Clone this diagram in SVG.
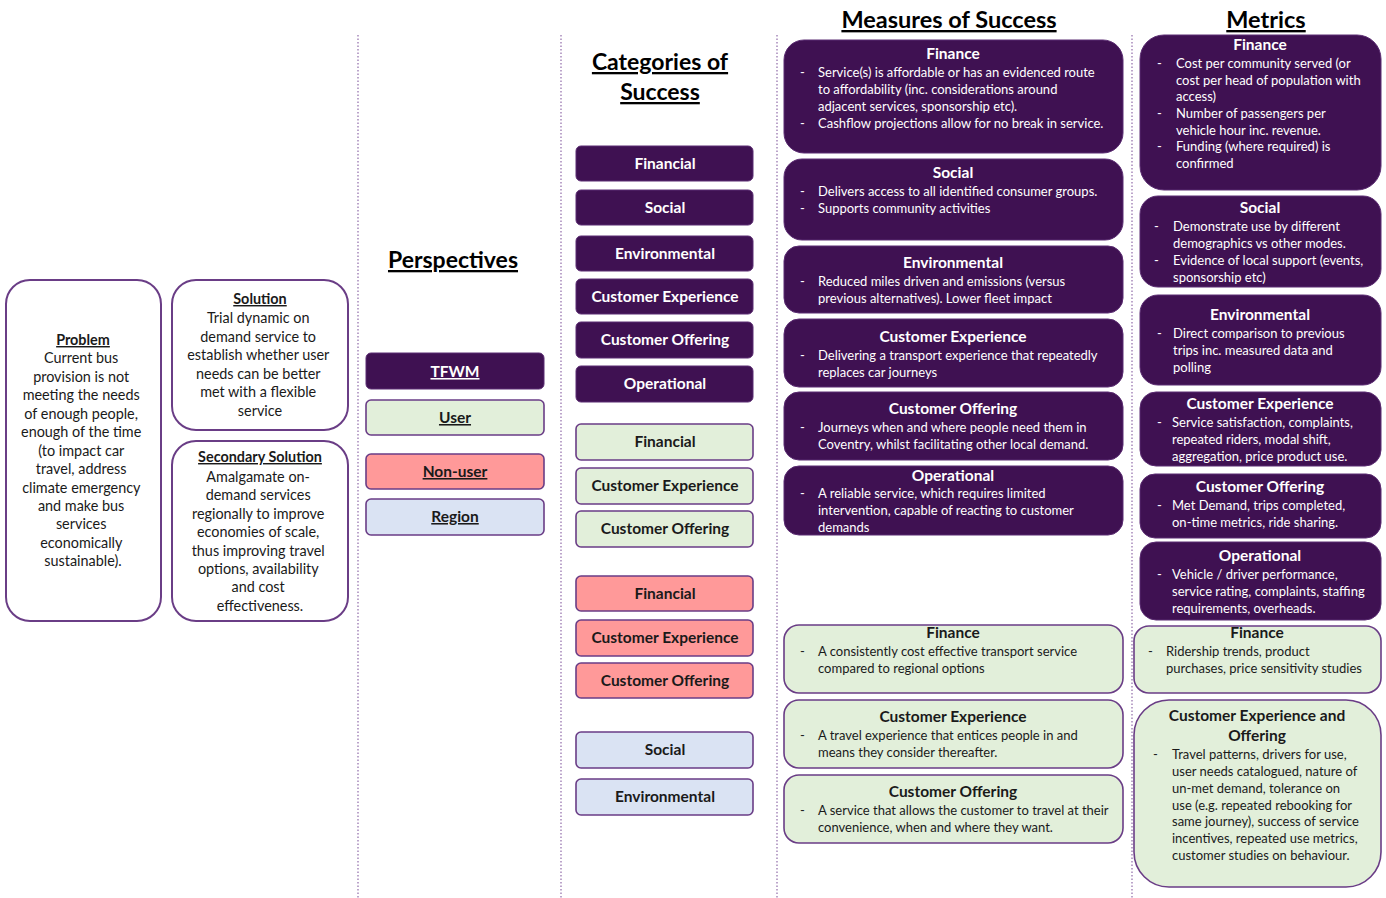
<svg xmlns="http://www.w3.org/2000/svg" width="1386" height="898" viewBox="0 0 1386 898">
<style>
text{font-family:Lato,"Open Sans",sans-serif;}
.bg{fill:#ffffff}
.div{stroke:#8f6aa8;stroke-width:1.2;stroke-dasharray:1.5 2;fill:none}
.wbox{fill:#ffffff;stroke:#6a3d86;stroke-width:2}
.dk{fill:#3f1152;stroke:#5b2c72;stroke-width:1}
.gr{fill:#e2efda;stroke:#6a3d86;stroke-width:1.6}
.rd{fill:#ff9999;stroke:#6a3d86;stroke-width:1.6}
.bl{fill:#dae3f3;stroke:#6a3d86;stroke-width:1.6}
.head{font-size:23px;font-weight:bold;fill:#000;text-anchor:middle;text-decoration:underline}
.lt{font-size:14.4px;fill:#1a1a1a;text-anchor:middle}
.ltb{font-size:14.4px;font-weight:bold;fill:#1a1a1a;text-anchor:middle;text-decoration:underline}
.cw{font-size:15.5px;font-weight:bold;fill:#fff;text-anchor:middle}
.ck{font-size:15.5px;font-weight:bold;fill:#1a1a1a;text-anchor:middle}
.pw{text-decoration:underline}
.tw{font-size:15.5px;font-weight:bold;fill:#fff;text-anchor:middle}
.tk{font-size:15.5px;font-weight:bold;fill:#1a1a1a;text-anchor:middle}
.bw{font-size:13px;fill:#fff}
.bk{font-size:13px;fill:#1a1a1a}
.mw{font-size:13px;fill:#fff}
.mk{font-size:13px;fill:#1a1a1a}
</style>
<rect class="bg" x="0" y="0" width="1386" height="898"/>

<g id="dividers">
<line class="div" x1="358" y1="35" x2="358" y2="898"/>
<line class="div" x1="561" y1="35" x2="561" y2="898"/>
<line class="div" x1="777" y1="35" x2="777" y2="898"/>
<line class="div" x1="1132" y1="35" x2="1132" y2="898"/>
</g>

<g id="problem">
<rect class="wbox" x="6" y="280" width="155" height="341" rx="24"/>
<text class="ltb" x="83" y="345">Problem</text>
<text class="lt">
<tspan x="83" y="363">Current bus</tspan>
<tspan x="83" y="382">provision is not</tspan>
<tspan x="83" y="400">meeting the needs</tspan>
<tspan x="83" y="419">of enough people,</tspan>
<tspan x="83" y="437">enough of the time</tspan>
<tspan x="83" y="456">(to impact car</tspan>
<tspan x="83" y="474">travel, address</tspan>
<tspan x="83" y="493">climate emergency</tspan>
<tspan x="83" y="511">and make bus</tspan>
<tspan x="83" y="529">services</tspan>
<tspan x="83" y="548">economically</tspan>
<tspan x="83" y="566">sustainable).</tspan>
</text>
</g>

<g id="solution">
<rect class="wbox" x="172" y="280" width="176" height="150" rx="24"/>
<text class="ltb" x="260" y="304">Solution</text>
<text class="lt">
<tspan x="260" y="323">Trial dynamic  on</tspan>
<tspan x="260" y="342">demand service to</tspan>
<tspan x="260" y="360">establish whether user</tspan>
<tspan x="260" y="379">needs can be better</tspan>
<tspan x="260" y="397">met with a flexible</tspan>
<tspan x="260" y="416">service</tspan>
</text>
</g>

<g id="secondary-solution">
<rect class="wbox" x="172" y="441" width="176" height="180" rx="24"/>
<text class="ltb" x="260" y="462">Secondary Solution</text>
<text class="lt">
<tspan x="260" y="482">Amalgamate on-</tspan>
<tspan x="260" y="500">demand services</tspan>
<tspan x="260" y="519">regionally to improve</tspan>
<tspan x="260" y="537">economies of scale,</tspan>
<tspan x="260" y="556">thus improving travel</tspan>
<tspan x="260" y="574">options, availability</tspan>
<tspan x="260" y="592">and cost</tspan>
<tspan x="260" y="611">effectiveness.</tspan>
</text>
</g>

<g id="perspectives">
<text class="head" x="453" y="268">Perspectives</text>
<g id="p-tfwm"><rect class="dk" x="366" y="353" width="178" height="36" rx="5"/><text class="cw pw" x="455" y="377">TFWM</text></g>
<g id="p-user"><rect class="gr" x="366" y="400" width="178" height="35" rx="5"/><text class="ck pw" x="455" y="423">User</text></g>
<g id="p-nonuser"><rect class="rd" x="366" y="454" width="178" height="35" rx="5"/><text class="ck pw" x="455" y="477">Non-user</text></g>
<g id="p-region"><rect class="bl" x="366" y="499" width="178" height="36" rx="5"/><text class="ck pw" x="455" y="522">Region</text></g>
</g>

<g id="categories">
<text class="head"><tspan x="660" y="70">Categories of</tspan><tspan x="660" y="100">Success</tspan></text>
<g id="c-t-fin"><rect class="dk" x="576" y="146" width="177" height="35" rx="5"/><text class="cw" x="665" y="169">Financial</text></g>
<g id="c-t-soc"><rect class="dk" x="576" y="190" width="177" height="35" rx="5"/><text class="cw" x="665" y="213">Social</text></g>
<g id="c-t-env"><rect class="dk" x="576" y="236" width="177" height="35" rx="5"/><text class="cw" x="665" y="259">Environmental</text></g>
<g id="c-t-ce"><rect class="dk" x="576" y="279" width="177" height="35" rx="5"/><text class="cw" x="665" y="302">Customer Experience</text></g>
<g id="c-t-co"><rect class="dk" x="576" y="322" width="177" height="36" rx="5"/><text class="cw" x="665" y="345">Customer Offering</text></g>
<g id="c-t-op"><rect class="dk" x="576" y="366" width="177" height="36" rx="5"/><text class="cw" x="665" y="389">Operational</text></g>
<g id="c-u-fin"><rect class="gr" x="576" y="424" width="177" height="36" rx="5"/><text class="ck" x="665" y="447">Financial</text></g>
<g id="c-u-ce"><rect class="gr" x="576" y="468" width="177" height="36" rx="5"/><text class="ck" x="665" y="491">Customer Experience</text></g>
<g id="c-u-co"><rect class="gr" x="576" y="511" width="177" height="36" rx="5"/><text class="ck" x="665" y="534">Customer Offering</text></g>
<g id="c-n-fin"><rect class="rd" x="576" y="576" width="177" height="35" rx="5"/><text class="ck" x="665" y="599">Financial</text></g>
<g id="c-n-ce"><rect class="rd" x="576" y="620" width="177" height="36" rx="5"/><text class="ck" x="665" y="643">Customer Experience</text></g>
<g id="c-n-co"><rect class="rd" x="576" y="663" width="177" height="35" rx="5"/><text class="ck" x="665" y="686">Customer Offering</text></g>
<g id="c-r-soc"><rect class="bl" x="576" y="732" width="177" height="36" rx="5"/><text class="ck" x="665" y="755">Social</text></g>
<g id="c-r-env"><rect class="bl" x="576" y="779" width="177" height="36" rx="5"/><text class="ck" x="665" y="802">Environmental</text></g>
</g>

<g id="measures">
<text class="head" x="949" y="28" style="font-size:23.5px">Measures of Success</text>
<g id="m-fin">
<rect class="dk" x="784" y="40" width="339" height="113" rx="20"/>
<text class="tw" x="953" y="59">Finance</text>
<text class="bw"><tspan x="800" y="77">-</tspan><tspan x="818" y="77">Service(s) is affordable or has an evidenced route</tspan><tspan x="818" y="94">to affordability (inc. considerations around</tspan><tspan x="818" y="111">adjacent services, sponsorship etc).</tspan><tspan x="800" y="128">-</tspan><tspan x="818" y="128">Cashflow projections allow for no break in service.</tspan></text>
</g>
<g id="m-soc">
<rect class="dk" x="784" y="159" width="339" height="81" rx="18"/>
<text class="tw" x="953" y="178">Social</text>
<text class="bw"><tspan x="800" y="196">-</tspan><tspan x="818" y="196">Delivers access to all identified consumer groups.</tspan><tspan x="800" y="213">-</tspan><tspan x="818" y="213">Supports community activities</tspan></text>
</g>
<g id="m-env">
<rect class="dk" x="784" y="246" width="339" height="67" rx="15"/>
<text class="tw" x="953" y="268">Environmental</text>
<text class="bw"><tspan x="800" y="286">-</tspan><tspan x="818" y="286">Reduced miles driven and emissions (versus</tspan><tspan x="818" y="303">previous alternatives).  Lower fleet impact</tspan></text>
</g>
<g id="m-ce">
<rect class="dk" x="784" y="319" width="339" height="68" rx="15"/>
<text class="tw" x="953" y="342">Customer Experience</text>
<text class="bw"><tspan x="800" y="360">-</tspan><tspan x="818" y="360">Delivering a transport experience that repeatedly</tspan><tspan x="818" y="377">replaces car journeys</tspan></text>
</g>
<g id="m-co">
<rect class="dk" x="784" y="392" width="339" height="68" rx="15"/>
<text class="tw" x="953" y="414">Customer Offering</text>
<text class="bw"><tspan x="800" y="432">-</tspan><tspan x="818" y="432">Journeys when and where people need them in</tspan><tspan x="818" y="449">Coventry, whilst facilitating other local demand.</tspan></text>
</g>
<g id="m-op">
<rect class="dk" x="784" y="466" width="339" height="69" rx="15"/>
<text class="tw" x="953" y="481">Operational</text>
<text class="bw"><tspan x="800" y="498">-</tspan><tspan x="818" y="498">A reliable service, which requires limited</tspan><tspan x="818" y="515">intervention, capable of reacting to customer</tspan><tspan x="818" y="532">demands</tspan></text>
</g>
<g id="m-u-fin">
<rect class="gr" x="784" y="625" width="339" height="68" rx="15"/>
<text class="tk" x="953" y="638">Finance</text>
<text class="bk"><tspan x="800" y="656">-</tspan><tspan x="818" y="656">A consistently cost effective transport service</tspan><tspan x="818" y="673">compared to regional options</tspan></text>
</g>
<g id="m-u-ce">
<rect class="gr" x="784" y="700" width="339" height="68" rx="15"/>
<text class="tk" x="953" y="722">Customer Experience</text>
<text class="bk"><tspan x="800" y="740">-</tspan><tspan x="818" y="740">A travel experience that entices people in and</tspan><tspan x="818" y="757">means they consider thereafter.</tspan></text>
</g>
<g id="m-u-co">
<rect class="gr" x="784" y="775" width="339" height="68" rx="15"/>
<text class="tk" x="953" y="797">Customer Offering</text>
<text class="bk"><tspan x="800" y="815">-</tspan><tspan x="818" y="815">A service that allows the customer to travel at their</tspan><tspan x="818" y="832">convenience, when and where they want.</tspan></text>
</g>
</g>

<g id="metrics">
<text class="head" x="1266" y="28" style="font-size:23.5px">Metrics</text>
<g id="x-fin">
<rect class="dk" x="1140" y="35" width="241" height="155" rx="24"/>
<text class="tw" x="1260" y="50">Finance</text>
<text class="mw"><tspan x="1157" y="68">-</tspan><tspan x="1176" y="68">Cost per community served (or</tspan><tspan x="1176" y="85">cost per head of population with</tspan><tspan x="1176" y="101">access)</tspan><tspan x="1157" y="118">-</tspan><tspan x="1176" y="118">Number of passengers per</tspan><tspan x="1176" y="135">vehicle hour inc. revenue.</tspan><tspan x="1157" y="151">-</tspan><tspan x="1176" y="151">Funding (where required) is</tspan><tspan x="1176" y="168">confirmed</tspan></text>
</g>
<g id="x-soc">
<rect class="dk" x="1140" y="196" width="241" height="91" rx="18"/>
<text class="tw" x="1260" y="213">Social</text>
<text class="mw"><tspan x="1154" y="231">-</tspan><tspan x="1173" y="231">Demonstrate use by different</tspan><tspan x="1173" y="248">demographics vs other modes.</tspan><tspan x="1154" y="265">-</tspan><tspan x="1173" y="265">Evidence of local support (events,</tspan><tspan x="1173" y="282">sponsorship etc)</tspan></text>
</g>
<g id="x-env">
<rect class="dk" x="1140" y="295" width="241" height="90" rx="18"/>
<text class="tw" x="1260" y="320">Environmental</text>
<text class="mw"><tspan x="1157" y="338">-</tspan><tspan x="1173" y="338">Direct comparison to previous</tspan><tspan x="1173" y="355">trips inc. measured data and</tspan><tspan x="1173" y="372">polling</tspan></text>
</g>
<g id="x-ce">
<rect class="dk" x="1140" y="392" width="241" height="74" rx="16"/>
<text class="tw" x="1260" y="409">Customer Experience</text>
<text class="mw"><tspan x="1157" y="427">-</tspan><tspan x="1172" y="427">Service satisfaction, complaints,</tspan><tspan x="1172" y="444">repeated riders, modal shift,</tspan><tspan x="1172" y="461">aggregation, price product use.</tspan></text>
</g>
<g id="x-co">
<rect class="dk" x="1140" y="474" width="241" height="64" rx="15"/>
<text class="tw" x="1260" y="492">Customer Offering</text>
<text class="mw"><tspan x="1157" y="510">-</tspan><tspan x="1172" y="510">Met Demand, trips completed,</tspan><tspan x="1172" y="527">on-time metrics, ride sharing.</tspan></text>
</g>
<g id="x-op">
<rect class="dk" x="1140" y="542" width="241" height="78" rx="16"/>
<text class="tw" x="1260" y="561">Operational</text>
<text class="mw"><tspan x="1157" y="579">-</tspan><tspan x="1172" y="579">Vehicle / driver performance,</tspan><tspan x="1172" y="596">service rating, complaints, staffing</tspan><tspan x="1172" y="613">requirements, overheads.</tspan></text>
</g>
<g id="x-u-fin">
<rect class="gr" x="1134" y="626" width="247" height="67" rx="15"/>
<text class="tk" x="1257" y="638">Finance</text>
<text class="mk"><tspan x="1148" y="656">-</tspan><tspan x="1166" y="656">Ridership trends, product</tspan><tspan x="1166" y="673">purchases, price sensitivity studies</tspan></text>
</g>
<g id="x-u-ceo">
<rect class="gr" x="1134" y="700" width="247" height="187" rx="35"/>
<text class="tk"><tspan x="1257" y="721">Customer Experience and</tspan><tspan x="1257" y="741">Offering</tspan></text>
<text class="mk"><tspan x="1153" y="759">-</tspan><tspan x="1172" y="759">Travel patterns, drivers for use,</tspan><tspan x="1172" y="776">user needs catalogued, nature of</tspan><tspan x="1172" y="793">un-met demand, tolerance on</tspan><tspan x="1172" y="810">use (e.g. repeated rebooking for</tspan><tspan x="1172" y="826">same journey), success of service</tspan><tspan x="1172" y="843">incentives, repeated use metrics,</tspan><tspan x="1172" y="860">customer studies on behaviour.</tspan></text>
</g>
</g>
</svg>
